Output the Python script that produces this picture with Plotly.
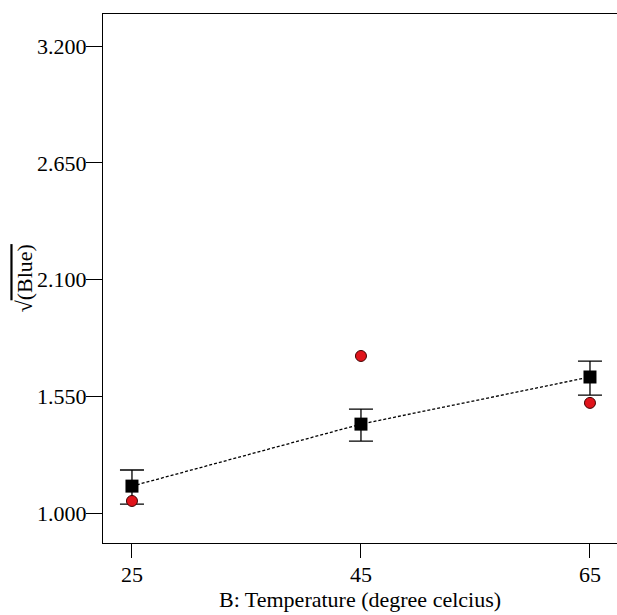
import plotly.graph_objects as go

temps = [25, 45, 65]
pred = [1.127, 1.419, 1.641]
err_hi = [1.203, 1.490, 1.716]
err_lo = [1.042, 1.339, 1.556]
actual = [1.057, 1.740, 1.519]
ytick_vals = [1.000, 1.550, 2.100, 2.650, 3.200]

up = [h - p for h, p in zip(err_hi, pred)]
dn = [p - l for p, l in zip(pred, err_lo)]

FONT = "'Liberation Serif', 'DejaVu Serif', 'Times New Roman', serif"

fig = go.Figure()
fig.add_trace(go.Scatter(
    x=temps, y=pred, mode="lines",
    line=dict(color="black", width=1.3, dash="3px,2px"),
    showlegend=False, hoverinfo="skip"))
fig.add_trace(go.Scatter(
    x=temps, y=pred, mode="markers",
    marker=dict(symbol="square", size=13, color="black"),
    error_y=dict(type="data", symmetric=False, array=up, arrayminus=dn,
                 color="black", thickness=1.3, width=12),
    showlegend=False))
fig.add_trace(go.Scatter(
    x=temps, y=actual, mode="markers",
    marker=dict(symbol="circle", size=11, color="#e0141b",
                line=dict(color="#400000", width=1)),
    showlegend=False))

fig.update_layout(
    width=617, height=615,
    margin=dict(l=103, r=0, t=14, b=72),
    paper_bgcolor="white", plot_bgcolor="white",
    font=dict(family=FONT, size=22, color="black"),
    xaxis=dict(range=[22.47, 67.36], tickvals=temps, ticktext=[str(t) for t in temps],
               showgrid=False, zeroline=False, showline=True, linecolor="black",
               linewidth=1.3, mirror=True, ticks="outside", ticklen=14, tickwidth=1.3,
               tickcolor="black", ticklabelstandoff=-3,
               title=dict(text="B: Temperature (degree celcius)", standoff=0,
                          font=dict(family=FONT, size=22))),
    yaxis=dict(range=[0.859, 3.351], tickvals=ytick_vals,
               ticktext=[f"{v:.3f}" for v in ytick_vals],
               showgrid=False, zeroline=False, showline=True, linecolor="black",
               linewidth=1.3, mirror=False, ticks="outside", ticklen=16, tickwidth=1.3,
               tickcolor="black", ticklabelstandoff=-5),
    annotations=[dict(
        text="√<span style=\"text-decoration:overline\">(Blue)</span>",
        xref="paper", yref="paper", x=-0.152, y=0.5, textangle=-90,
        showarrow=False, xanchor="center", yanchor="middle",
        font=dict(family=FONT, size=22))],
)
fig.write_html("out.html")
